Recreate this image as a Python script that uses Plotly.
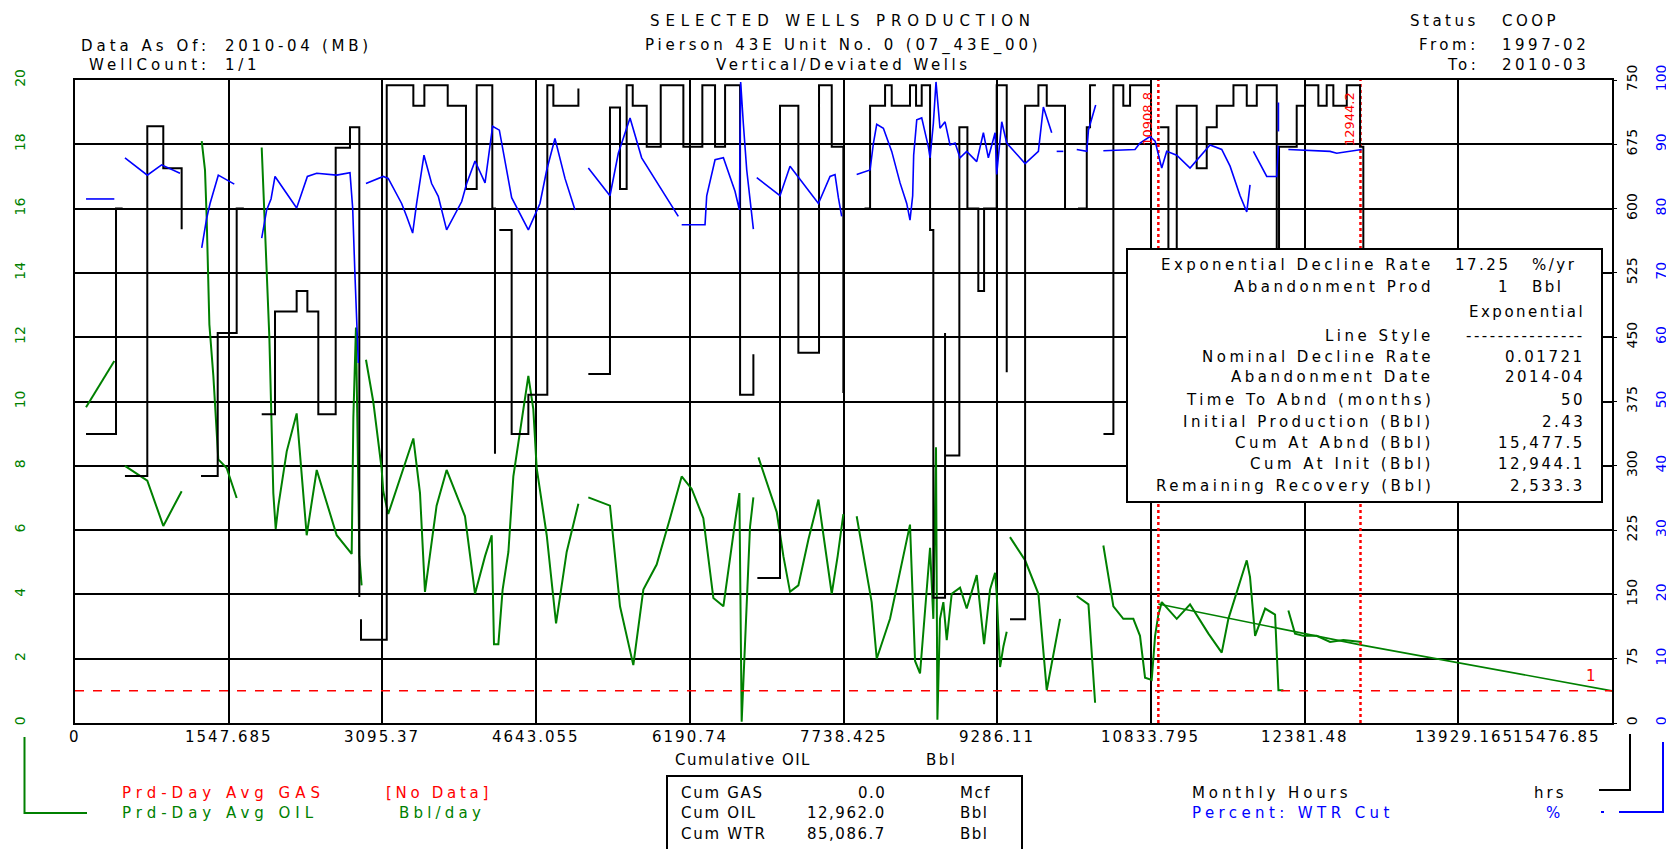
import plotly.graph_objects as go

# ---------------- data ----------------
x_ticks = [0, 1547.685, 3095.37, 4643.055, 6190.74, 7738.425, 9286.11,
           10833.795, 12381.48, 13929.165, 15476.85]
x_tick_labels = ["0", "1547.685", "3095.37", "4643.055", "6190.74", "7738.425",
                 "9286.11", "10833.795", "12381.48", "13929.165", "15476.85"]
oil_ticks = list(range(0, 21, 2))
hours_ticks = list(range(0, 751, 75))
wtr_ticks = list(range(0, 101, 10))

# Monthly hours (step line, right axis 0-750); None = gap
hours_x = [111, 413, 480, None,
           503, 728, 889, 1074, None,
           1269, 1437, 1628, 1700, None,
           1880, 2014, 2232, 2340, 2450, 2625, 2769, 2863, None,
           2880, 2880, 3139, 3407, 3518, 3753, 3937, 4045, 4202, 4229, None,
           4273, 4397, 4565, 4756, 4817, 5069, None,
           5169, 5387, 5488, 5555, 5616, 5757, 5898, 6126, 6317, 6445, 6546, 6697, 6831, None,
           6871, 7099, 7284, 7492, 7620, 7737, None,
           7950, 8006, 8157, 8224, 8408, 8469, 8526, 8610, 8643, 8761, 8761, 8905, 8986,
           9096, 9154, 9281, 9382, None,
           9415, 9567, 9701, 9785, 9969, None,
           10100, 10188, 10221, 10280, None,
           10356, 10456, 10556, 10624, 10825, None,
           10926, 11010, 11094, 11295, 11396, 11497, 11665, 11799, 11900, 12101, 12124,
           12302, 12386, 12520, 12604, 12671, 12806, 12940, 12973]
hours_y = [337, 600, 600, None,
           288, 696, 647, 576, None,
           288, 455, 600, 600, None,
           360, 480, 504, 480, 360, 671, 695, 147, None,
           121, 97, 744, 720, 744, 720, 623, 744, 600, 314, None,
           575, 337, 383, 744, 720, 740, None,
           407, 718, 623, 744, 720, 672, 744, 672, 744, 672, 744, 383, 430, None,
           169, 720, 432, 744, 672, 385, None,
           600, 720, 744, 720, 744, 720, 744, 575, 146, 455, 312, 695, 600,
           504, 600, 744, 409, None,
           121, 720, 744, 720, 600, None,
           600, 695, 744, 744, None,
           337, 744, 720, 744, 744, None,
           695, 400, 720, 647, 695, 720, 744, 720, 744, 450, 672,
           720, 744, 720, 744, 720, 744, 672, 450]

# Percent water cut (right axis 0-100)
wtr_x = [111, 396, None,
         503, 728, 872, 1057, None,
         1276, 1326, 1360, 1443, 1604, None,
         1880, 1930, 1974, 2014, 2232, 2340, 2434, 2635, 2769, 2796, 2819, 2843, 2853, None,
         2930, 3104, 3154, 3289, 3339, 3400, 3440, 3514, 3591, 3658, 3742, 3894, 3944, 4028,
         4129, 4205, 4273, 4313, 4397, 4565, 4682, 4750, 4833, 4934, 5035, None,
         5169, 5387, 5471, 5589, 5706, 6075, None,
         6109, 6344, 6361, 6445, 6529, 6646, 6690, 6703, 6730, 6764, 6831, None,
         6865, 7099, 7200, 7486, 7603, 7653, 7687, 7720, None,
         7871, 8006, 8040, 8073, 8140, 8224, 8308, 8375, 8408, 8435, 8445, 8476, 8526, 8593,
         8610, 8643, 8670, 8710, 8761, 8811, 8862, 8912, 8979, 9080, 9147, 9197, 9265, 9281,
         9332, 9382, 9567, 9701, 9751, 9835, None,
         9885, 9952, None,
         10087, 10188, 10205, 10278, None,
         10355, 10674, 10724, 10825, 10876, 10909, 10943, 10993, 11094, 11228, 11429, 11547,
         11631, 11732, 11799, 11832, None,
         11866, 12000, 12101, 12118, None,
         12118, 12118, None,
         12218, 12638, 12705, 12957]
wtr_y = [81.5, 81.5, None,
         87.9, 85.2, 86.8, 85.5, None,
         73.9, 78.5, 80.8, 85.2, 83.8, None,
         75.4, 79.8, 81.5, 85.0, 80.1, 85.0, 85.5, 85.2, 85.6, 80.1, 69.7, 61.2, 56.0, None,
         83.9, 85.0, 84.7, 80.8, 78.8, 76.2, 80.8, 88.3, 83.9, 81.9, 76.7, 81.1, 83.9, 87.4,
         84.0, 92.8, 92.2, 88.9, 81.7, 76.7, 80.8, 86.0, 90.9, 84.7, 79.8, None,
         86.3, 82.0, 88.6, 94.1, 87.9, 78.8, None,
         77.5, 77.5, 82.0, 87.6, 87.9, 82.7, 79.8, 99.7, 93.2, 86.0, 76.8, None,
         84.8, 82.0, 86.6, 80.8, 85.0, 85.3, 81.7, 78.8, None,
         85.3, 86.0, 90.2, 93.1, 92.5, 88.9, 84.0, 80.8, 78.2, 82.0, 88.3, 93.8, 94.1, 89.6,
         87.9, 93.2, 99.7, 92.5, 93.5, 89.9, 90.2, 87.9, 88.9, 87.3, 91.8, 87.9, 91.8, 85.3,
         93.5, 90.2, 87.0, 88.9, 95.8, 91.8, None,
         88.9, 88.9, None,
         89.2, 88.9, 92.2, 96.1, None,
         89.0, 89.2, 90.2, 91.2, 90.5, 88.3, 86.3, 88.9, 88.3, 86.3, 89.9, 89.2,
         86.6, 82.0, 79.5, 83.7, None,
         88.9, 85.0, 85.0, 89.8, None,
         92.0, 96.5, None,
         89.2, 88.9, 88.6, 89.2]

# Producing-day average oil (left axis, Bbl/day)
oil_x = [111, 396, None,
         503, 728, 889, 1074, None,
         1276, 1309, 1326, 1353, 1393, 1420, 1443, 1527, 1628, None,
         1880, 1897, 1930, 1957, 1997, 2021, 2048, 2132, 2232, 2333, 2434, 2635, 2786, 2803,
         2829, 2863, 2886, None,
         2930, 3003, 3087, 3104, 3154, 3407, 3474, 3524, 3641, 3742, 3927, 4028, 4129, 4196,
         4219, 4263, 4306, 4364, 4414, 4481, 4565, 4615, 4649, 4750, 4844, 4951, 5069, None,
         5169, 5387, 5488, 5622, 5723, 5857, 5992, 6109, 6210, 6327, 6428, 6529, 6646, 6690,
         6713, 6747, 6797, 6831, None,
         6882, 7066, 7133, 7200, 7284, 7385, 7486, 7553, 7620, 7680, 7737, None,
         7871, 8022, 8073, 8207, 8408, 8459, 8509, 8610, 8643, 8670, 8684, 8710, 8744, 8778,
         8828, 8912, 8979, 9080, 9154, 9214, 9265, 9281, 9315, 9349, 9382, None,
         9415, 9567, 9701, 9785, 9919, None,
         10087, 10205, 10272, None,
         10355, 10456, 10556, 10657, 10724, 10775, 10842, 10876, 10909, 10943, 11094, 11228,
         11413, 11547, 11614, 11698, 11799, 11832, 11883, 11984, 12084, 12118, 12168, None,
         12218, 12285, 12369, 12503, 12638, 12772, 12957]
oil_y = [9.82, 11.26, None,
         8.0, 7.54, 6.13, 7.21, None,
         18.1, 17.2, 15.7, 12.4, 10.8, 9.2, 8.2, 7.93, 7.0, None,
         17.9, 16.7, 14.3, 12.0, 7.15, 6.04, 6.76, 8.45, 9.63, 5.84, 7.87, 5.84, 5.26, 9.5,
         12.3, 5.19, 4.28, None,
         11.3, 10.0, 7.93, 7.21, 6.5, 8.85, 7.15, 4.08, 6.76, 7.87, 6.43, 4.02, 5.19, 5.84,
         2.45, 2.45, 4.15, 5.32, 7.67, 9.1, 10.8, 9.76, 7.93, 5.84, 3.1, 5.32, 6.82, None,
         7.02, 6.76, 3.63, 1.8, 4.15, 4.93, 6.37, 7.67, 7.28, 6.37, 3.89, 3.63, 6.24, 7.15,
         0.04, 2.58, 6.1, 7.02, None,
         8.26, 6.56, 5.19, 4.08, 4.28, 5.71, 6.95, 5.45, 4.02, 5.2, 6.5, None,
         6.43, 3.76, 2.0, 3.24, 6.17, 1.93, 1.54, 5.45, 3.24, 8.58, 0.1, 3.24, 3.76, 2.58,
         4.02, 4.21, 3.56, 4.6, 2.45, 4.15, 4.67, 4.02, 1.74, 2.39, 2.84, None,
         5.78, 5.06, 4.02, 1.02, 3.24, None,
         3.95, 3.69, 0.63, None,
         5.52, 3.63, 3.24, 3.24, 2.71, 1.41, 1.34, 2.71, 3.37, 3.76, 3.24, 3.69,
         2.78, 2.19, 3.24, 4.08, 5.06, 4.54, 2.71, 3.56, 3.37, 1.02, 1.02, None,
         3.5, 2.78, 2.71, 2.71, 2.52, 2.58, 2.52]

# Exponential decline forecast
decline_x = [10908.8, 12944.1, 15477.5]
decline_y = [3.7, 2.43, 1.0]
abandon_rate = 1
fit_lines = [10908.8, 12944.2]
fit_labels = ["10908.8", "12944.2"]

header_left = [("Data As Of:", "2010-04 (MB)"), ("WellCount:", "1/1")]
titles = ["SELECTED WELLS PRODUCTION", "Pierson 43E Unit No. 0 (07_43E_00)",
          "Vertical/Deviated Wells"]
header_right = [("Status", "COOP"), ("From:", "1997-02"), ("To:", "2010-03")]

info_rows = [("Exponential Decline Rate", "17.25", "%/yr"),
             ("Abandonment Prod", "1", "Bbl"),
             ("", "Exponential", None),
             ("Line Style", "---------------", None),
             ("Nominal Decline Rate", "0.01721", None),
             ("Abandonment Date", "2014-04", None),
             ("Time To Abnd (months)", "50", None),
             ("Initial Production (Bbl)", "2.43", None),
             ("Cum At Abnd (Bbl)", "15,477.5", None),
             ("Cum At Init (Bbl)", "12,944.1", None),
             ("Remaining Recovery (Bbl)", "2,533.3", None)]

cum_rows = [("Cum GAS", "0.0", "Mcf"), ("Cum OIL", "12,962.0", "Bbl"),
            ("Cum WTR", "85,086.7", "Bbl")]

# ---------------- styling ----------------
GREEN = "#008000"
BLUE = "#0000FF"
RED = "#FF0000"
FONT = "DejaVu Sans"
OFF = 8                       # default page (body) margin of the html page
FIG_W, FIG_H = 1666, 841
L, R, T, B = 75, 1612, 80, 723  # plot area in window pixels


def px(x):
    return (x - L) / (R - L)


def py(y):
    return (B - y) / (B - T)


def spaced(text, ls):
    if ls:
        return f'<span style="letter-spacing:{ls}px">{text}</span>'
    return text


def txt(text, x, y, anchor="left", color="black", size=15, ls=2.5, **kw):
    d = dict(text=spaced(text, ls), x=px(x), y=py(y), xref="paper", yref="paper",
             xanchor=anchor, yanchor="middle", showarrow=False,
             font=dict(family=FONT, size=size, color=color))
    d.update(kw)
    return d


fig = go.Figure()

fig.add_trace(go.Scatter(x=hours_x, y=hours_y, yaxis="y2", mode="lines",
                         line=dict(color="black", width=2, shape="hv"),
                         connectgaps=False, name="Monthly Hours"))
fig.add_trace(go.Scatter(x=wtr_x, y=wtr_y, yaxis="y3", mode="lines",
                         line=dict(color=BLUE, width=1.6),
                         connectgaps=False, name="Percent: WTR Cut"))
fig.add_trace(go.Scatter(x=oil_x, y=oil_y, mode="lines",
                         line=dict(color=GREEN, width=2),
                         connectgaps=False, name="Prd-Day Avg OIL"))
fig.add_trace(go.Scatter(x=decline_x, y=decline_y, mode="lines",
                         line=dict(color=GREEN, width=1.6), name="Exponential"))
fig.add_trace(go.Scatter(x=[0, x_ticks[-1]], y=[abandon_rate, abandon_rate], mode="lines",
                         line=dict(color=RED, width=1.5, dash="dash"), name="Abandonment"))
for v in fit_lines:
    fig.add_trace(go.Scatter(x=[v, v], y=[0, 20], mode="lines",
                             line=dict(color=RED, width=2.5, dash="dot"), name="fit"))

annotations = []
# header
for i, (lab, val) in enumerate(header_left):
    yy = [46, 65][i]
    annotations.append(txt(lab, 212, yy, anchor="right", ls=4))
    annotations.append(txt(val, 223, yy, ls=3.7))
for i, t in enumerate(titles):
    annotations.append(txt(t, 843, [21, 45, 65][i], anchor="center",
                           ls=[5.9, 3.85, 3.55][i]))
for i, (lab, val) in enumerate(header_right):
    yy = [21, 45, 65][i]
    annotations.append(txt(lab, 1481, yy, anchor="right", ls=3.5))
    annotations.append(txt(val, 1500, yy, ls=3.5))

# x tick labels
for i, (v, lab) in enumerate(zip(x_ticks, x_tick_labels)):
    anchor, shift = "center", 0
    if i == len(x_ticks) - 2:
        anchor, shift = "right", 58
    if i == len(x_ticks) - 1:
        anchor, shift = "right", -9
    annotations.append(dict(text=spaced(lab, 2), x=v, xref="x", y=py(737), yref="paper",
                            xanchor=anchor, yanchor="middle", xshift=shift,
                            showarrow=False, font=dict(family=FONT, size=15, color="black")))
annotations.append(txt("Cumulative OIL", 673, 760, ls=1.5))
annotations.append(txt("Bbl", 924, 760))

# left legend
annotations.append(txt("Prd-Day Avg GAS", 120, 793, color=RED, ls=5))
annotations.append(txt("[No Data]", 384, 793, color=RED, ls=3.7))
annotations.append(txt("Prd-Day Avg OIL", 120, 813, color=GREEN, ls=5))
annotations.append(txt("Bbl/day", 397, 813, color=GREEN, ls=4.2))

# cum box
for i, (lab, val, unit) in enumerate(cum_rows):
    yy = [793, 813, 834][i]
    annotations.append(txt(lab, 679, yy, ls=1.7))
    annotations.append(txt(val, 888, yy, anchor="right", ls=1.5))
    annotations.append(txt(unit, 958, yy, ls=1.5))

# right legend
annotations.append(txt("Monthly Hours", 1190, 793, ls=3.9))
annotations.append(txt("hrs", 1532, 793, ls=3))
annotations.append(txt("Percent: WTR Cut", 1190, 813, color=BLUE, ls=4.4))
annotations.append(txt("%", 1553, 813, anchor="center", color=BLUE, ls=0))

# info box
row_y = [265, 287, 312, 336, 357, 377, 400, 422, 443, 464, 486]
for (lab, val, unit), yy in zip(info_rows, row_y):
    if lab:
        annotations.append(txt(lab, 1436, yy, anchor="right", ls=3.5))
    if unit:
        annotations.append(txt(val, 1512, yy, anchor="right", ls=2.5))
        annotations.append(txt(unit, 1530, yy, ls=2.5))
    else:
        annotations.append(txt(val, 1587, yy, anchor="right", ls=2.5))

# fit-line labels
for v, lab in zip(fit_lines, fit_labels):
    annotations.append(dict(text=lab, x=v, xref="x", y=py(90), yref="paper",
                            xanchor="right", yanchor="top", textangle=-90, xshift=-2,
                            showarrow=False, font=dict(family=FONT, size=13, color=RED)))
annotations.append(dict(text="1", x=15266, y=1.45, xref="x", yref="y",
                        showarrow=False, font=dict(family=FONT, size=15, color=RED)))

shapes = [
    dict(type="rect", xref="paper", yref="paper", x0=px(1127), x1=px(1602),
         y0=py(502), y1=py(249), line=dict(color="black", width=2),
         fillcolor="white", layer="above"),
    dict(type="rect", xref="paper", yref="paper", x0=px(667), x1=px(1022),
         y0=py(870), y1=py(776), line=dict(color="black", width=2),
         fillcolor="white", layer="below"),
    dict(type="path", xref="paper", yref="paper",
         path=f"M {px(24.5)},{py(737)} L {px(24.5)},{py(813)} L {px(87)},{py(813)}",
         line=dict(color=GREEN, width=2)),
    dict(type="path", xref="paper", yref="paper",
         path=f"M {px(1630)},{py(734)} L {px(1630)},{py(790)} L {px(1599)},{py(790)}",
         line=dict(color="black", width=2)),
    dict(type="path", xref="paper", yref="paper",
         path=f"M {px(1663)},{py(742)} L {px(1663)},{py(812)} L {px(1619)},{py(812)}",
         line=dict(color=BLUE, width=2)),
    dict(type="line", xref="paper", yref="paper", x0=px(1601), x1=px(1604),
         y0=py(812), y1=py(812), line=dict(color=BLUE, width=2)),
]

fig.update_layout(
    width=FIG_W, height=FIG_H, autosize=False,
    margin=dict(l=L - OFF, r=FIG_W - (R - OFF), t=T - OFF, b=FIG_H - (B - OFF),
                pad=0, autoexpand=False),
    paper_bgcolor="white", plot_bgcolor="white",
    showlegend=False,
    font=dict(family=FONT, size=15, color="black"),
    xaxis=dict(range=[0, x_ticks[-1]], tickvals=x_ticks, showticklabels=False,
               showgrid=True, gridcolor="black", gridwidth=2, zeroline=False,
               showline=True, mirror=True, linecolor="black", linewidth=2, ticks="",
               automargin=False),
    yaxis=dict(range=[0, 20], tickvals=oil_ticks, tickangle=-90,
               tickfont=dict(family=FONT, size=14, color=GREEN),
               showgrid=True, gridcolor="black", gridwidth=1.5, zeroline=False,
               showline=True, mirror=True, linecolor="black", linewidth=2,
               ticks="", ticklabelstandoff=42, automargin=False),
    yaxis2=dict(range=[0, 750], tickvals=hours_ticks, tickangle=-90, overlaying="y",
                side="right", anchor="x",
                tickfont=dict(family=FONT, size=14, color="black"),
                showgrid=False, zeroline=False, ticks="outside", ticklen=4,
                tickcolor="black", ticklabelstandoff=3, automargin=False),
    yaxis3=dict(range=[0, 100], tickvals=wtr_ticks, tickangle=-90, overlaying="y",
                side="right", anchor="x",
                tickfont=dict(family=FONT, size=14, color=BLUE),
                showgrid=False, zeroline=False, ticks="", ticklabelstandoff=39,
                automargin=False),
    annotations=annotations,
    shapes=shapes,
)

fig.write_html("out.html")
